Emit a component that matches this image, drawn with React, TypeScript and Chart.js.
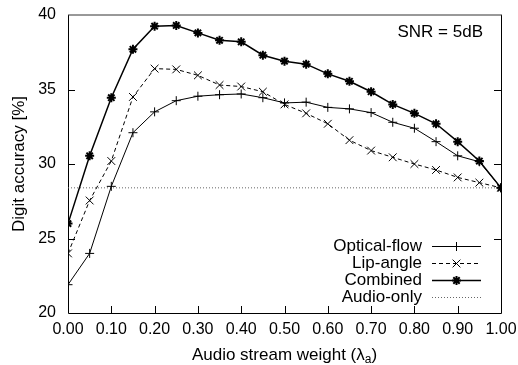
import React, { useEffect, useRef } from 'react';
import { Chart, registerables } from 'chart.js';

Chart.register(...registerables);

const weights = [0.0, 0.05, 0.1, 0.15, 0.2, 0.25, 0.3, 0.35, 0.4, 0.45, 0.5, 0.55, 0.6, 0.65, 0.7, 0.75, 0.8, 0.85, 0.9, 0.95, 1.0];
const opticalFlow = [21.9, 24.0, 28.5, 32.1, 33.5, 34.25, 34.55, 34.65, 34.7, 34.45, 34.1, 34.15, 33.8, 33.7, 33.45, 32.8, 32.4, 31.5, 30.55, 30.15, 28.4];
const lipAngle = [24.0, 27.55, 30.2, 34.5, 36.4, 36.35, 35.95, 35.3, 35.2, 34.85, 34.0, 33.4, 32.7, 31.6, 30.9, 30.45, 30.0, 29.6, 29.1, 28.75, 28.4];
const combined = [26.0, 30.55, 34.45, 37.7, 39.25, 39.3, 38.8, 38.3, 38.2, 37.3, 36.9, 36.7, 36.05, 35.55, 34.85, 34.0, 33.4, 32.7, 31.5, 30.2, 28.4];
const audioOnlyX = [0.0, 1.0];
const audioOnly = [28.4, 28.4];
const xTicks = [0.1, 0.2, 0.3, 0.4, 0.5, 0.6, 0.7, 0.8, 0.9];
const yTicks = [25, 30, 35];
const seriesNames = ['Optical-flow', 'Lip-angle', 'Combined', 'Audio-only'];

const FONT = "'Liberation Sans', Arial, Helvetica, sans-serif";
const TEXT_SIZE = 17;
const TICK_SIZE = 16;

function drawMarker(ctx: CanvasRenderingContext2D, kind: string, x: number, y: number, r: number) {
  ctx.beginPath();
  if (kind === 'cross' || kind === 'star') {
    ctx.moveTo(x - r, y); ctx.lineTo(x + r, y);
    ctx.moveTo(x, y - r); ctx.lineTo(x, y + r);
  }
  if (kind === 'crossRot' || kind === 'star') {
    const o = r * 0.707;
    ctx.moveTo(x - o, y - o); ctx.lineTo(x + o, y + o);
    ctx.moveTo(x - o, y + o); ctx.lineTo(x + o, y - o);
  }
  ctx.stroke();
}

const decorPlugin = {
  id: 'decor',
  beforeDatasetsDraw(chart: any) {
    const { ctx, chartArea: a, scales } = chart;
    ctx.save();
    ctx.strokeStyle = '#000';
    ctx.lineWidth = 1;
    ctx.beginPath();
    ctx.moveTo(a.left + 0.5, a.top);
    ctx.lineTo(a.left + 0.5, a.bottom + 0.5);
    ctx.lineTo(a.right + 0.5, a.bottom + 0.5);
    ctx.lineTo(a.right + 0.5, a.top);
    ctx.stroke();
    ctx.beginPath();
    ctx.strokeStyle = '#333';
    ctx.moveTo(a.left, a.top);
    ctx.lineTo(a.right + 1, a.top);
    ctx.stroke();
    ctx.strokeStyle = '#000';
    ctx.beginPath();
    const tl = 7;
    for (const v of xTicks) {
      const px = Math.round(scales.x.getPixelForValue(v)) + 0.5;
      ctx.moveTo(px, a.bottom);
      ctx.lineTo(px, a.bottom - tl);
    }
    for (const v of yTicks) {
      const py = Math.round(scales.y.getPixelForValue(v)) + 0.5;
      ctx.moveTo(a.left, py);
      ctx.lineTo(a.left + tl, py);
      ctx.moveTo(a.right, py);
      ctx.lineTo(a.right - tl, py);
    }
    ctx.stroke();
    ctx.restore();
  },
  afterDraw(chart: any) {
    const { ctx, chartArea: a } = chart;
    ctx.save();
    ctx.fillStyle = '#000';
    ctx.font = `${TEXT_SIZE}px ${FONT}`;
    // y title
    ctx.save();
    ctx.translate(19, (a.top + a.bottom) / 2);
    ctx.rotate(-Math.PI / 2);
    ctx.textAlign = 'center';
    ctx.textBaseline = 'middle';
    ctx.fillText('Digit accuracy [%]', 0, 0);
    ctx.restore();
    // x title with subscript
    const main = 'Audio stream weight (\u03BB';
    const sub = 'a';
    const close = ')';
    ctx.font = `${TEXT_SIZE}px ${FONT}`;
    const w1 = ctx.measureText(main).width;
    const w3 = ctx.measureText(close).width;
    ctx.font = `12px ${FONT}`;
    const w2 = ctx.measureText(sub).width;
    const total = w1 + w2 + w3;
    const x0 = (a.left + a.right) / 2 - total / 2;
    const yb = 360;
    ctx.textAlign = 'left';
    ctx.textBaseline = 'alphabetic';
    ctx.font = `${TEXT_SIZE}px ${FONT}`;
    ctx.fillText(main, x0, yb);
    ctx.font = `12px ${FONT}`;
    ctx.fillText(sub, x0 + w1, yb + 3);
    ctx.font = `${TEXT_SIZE}px ${FONT}`;
    ctx.fillText(close, x0 + w1 + w2, yb);
    // SNR label
    ctx.textAlign = 'right';
    ctx.textBaseline = 'middle';
    ctx.fillText('SNR = 5dB', 483, 32);
    // legend
    const rows = [246, 263, 280, 297];
    const styles = [
      { dash: [] as number[], lw: 1, marker: 'cross', mlw: 1, color: '#000' },
      { dash: [4, 3], lw: 1, marker: 'crossRot', mlw: 1, color: '#000' },
      { dash: [] as number[], lw: 1.5, marker: 'star', mlw: 2, color: '#000' },
      { dash: [1, 2], lw: 1, marker: '', mlw: 1, color: '#666' },
    ];
    for (let i = 0; i < 4; i++) {
      const y = rows[i];
      ctx.fillStyle = '#000';
      ctx.textAlign = 'right';
      ctx.fillText(seriesNames[i], 422, y);
      const s = styles[i];
      ctx.strokeStyle = s.color;
      ctx.lineWidth = s.lw;
      ctx.setLineDash(s.dash);
      ctx.beginPath();
      ctx.moveTo(432, y + 0.5);
      ctx.lineTo(481, y + 0.5);
      ctx.stroke();
      ctx.setLineDash([]);
      if (s.marker) {
        ctx.lineWidth = s.mlw;
        drawMarker(ctx, s.marker, 456.5, y + 0.5, s.marker === 'crossRot' ? 5.5 : 4.5);
      }
    }
    ctx.restore();
  },
};

export default function App() {
  const ref = useRef<HTMLCanvasElement>(null);
  useEffect(() => {
    if (!ref.current) return;
    Chart.defaults.font.family = FONT;
    Chart.defaults.font.size = TICK_SIZE;
    Chart.defaults.color = '#000';
    const mk = (vals: number[], xs: number[]) => vals.map((v, i) => ({ x: xs[i], y: v }));
    const chart = new Chart(ref.current, {
      type: 'line',
      data: {
        datasets: [
          {
            label: seriesNames[0],
            data: mk(opticalFlow, weights),
            borderColor: '#000',
            borderWidth: 1,
            pointStyle: 'cross',
            pointRadius: 4.5,
            pointBorderWidth: 1,
            pointBorderColor: '#000',
            fill: false,
            tension: 0,
          },
          {
            label: seriesNames[1],
            data: mk(lipAngle, weights),
            borderColor: '#000',
            borderWidth: 1,
            borderDash: [4, 3],
            pointStyle: 'crossRot',
            pointRadius: 5.5,
            pointBorderWidth: 1,
            pointBorderColor: '#000',
            fill: false,
            tension: 0,
          },
          {
            label: seriesNames[2],
            data: mk(combined, weights),
            borderColor: '#000',
            borderWidth: 1.5,
            pointStyle: 'star',
            pointRadius: 4.5,
            pointBorderWidth: 2,
            pointBorderColor: '#000',
            fill: false,
            tension: 0,
          },
          {
            label: seriesNames[3],
            data: mk(audioOnly, audioOnlyX),
            borderColor: '#666',
            borderWidth: 1,
            borderDash: [1, 2],
            pointRadius: 0,
            fill: false,
            tension: 0,
          },
        ],
      },
      options: {
        responsive: false,
        animation: false,
        events: [],
        layout: { padding: { top: 15, right: 17, left: 0, bottom: 0 } },
        plugins: { legend: { display: false }, tooltip: { enabled: false }, title: { display: false } },
        scales: {
          x: {
            type: 'linear',
            min: 0,
            max: 1,
            grid: { display: false, drawTicks: false },
            border: { display: false },
            ticks: {
              stepSize: 0.1,
              autoSkip: false,
              maxRotation: 0,
              padding: 7,
              color: '#000',
              font: { size: TICK_SIZE, family: FONT },
              callback: (v: any) => Number(v).toFixed(2),
            },
            afterFit: (s: any) => { s.height = 52; s.paddingLeft = 0; s.paddingRight = 0; },
          },
          y: {
            type: 'linear',
            min: 20,
            max: 40,
            grid: { display: false, drawTicks: false },
            border: { display: false },
            ticks: {
              stepSize: 5,
              padding: 12,
              color: '#000',
              font: { size: TICK_SIZE, family: FONT },
            },
            afterFit: (s: any) => { s.width = 68; s.paddingTop = 0; s.paddingBottom = 0; },
          },
        },
      },
      plugins: [decorPlugin],
    });
    return () => chart.destroy();
  }, []);
  return (
    <div style={{ position: 'fixed', left: 0, top: 0, width: 518, height: 365, background: '#fff' }}>
      <canvas ref={ref} width={518} height={365} style={{ width: 518, height: 365, display: 'block' }} />
    </div>
  );
}
